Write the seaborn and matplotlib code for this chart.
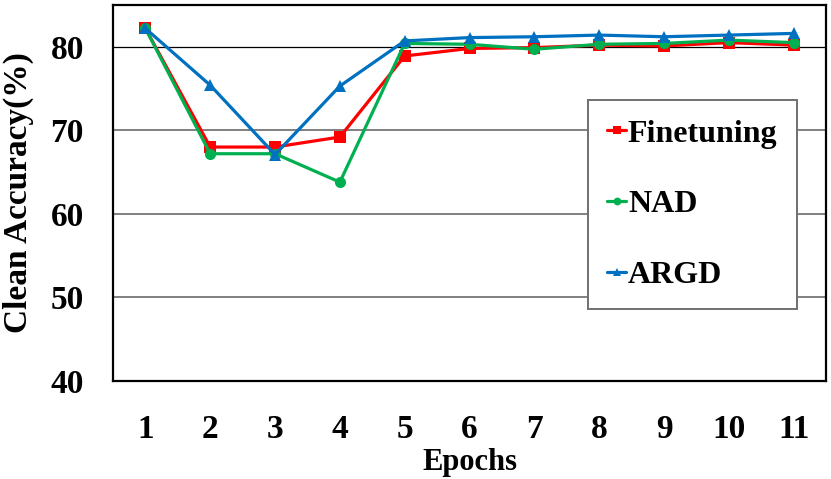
import matplotlib
matplotlib.use("Agg")
import matplotlib.pyplot as plt
import seaborn as sns
import pandas as pd

epochs = [1, 2, 3, 4, 5, 6, 7, 8, 9, 10, 11]
finetuning = [82.2, 68.0, 68.0, 69.2, 78.9, 79.8, 79.9, 80.2, 80.1, 80.5, 80.2]
nad = [82.2, 67.2, 67.2, 63.8, 80.4, 80.3, 79.7, 80.3, 80.4, 80.8, 80.5]
argd = [82.2, 75.4, 67.1, 75.3, 80.7, 81.1, 81.2, 81.4, 81.2, 81.4, 81.6]
series_names = ["Finetuning", "NAD", "ARGD"]
y_ticks = [40, 50, 60, 70, 80]

df = pd.DataFrame({
    "Epochs": epochs * 3,
    "Accuracy": finetuning + nad + argd,
    "Method": [series_names[0]] * len(epochs) + [series_names[1]] * len(epochs) + [series_names[2]] * len(epochs),
})

sns.set_theme(style="white")
plt.rcParams['font.family'] = ['Liberation Serif', 'DejaVu Serif']
plt.rcParams['font.weight'] = 'bold'
plt.rcParams['text.color'] = 'black'
plt.rcParams['axes.labelcolor'] = 'black'
plt.rcParams['xtick.color'] = 'black'
plt.rcParams['ytick.color'] = 'black'

fig = plt.figure(figsize=(8.31, 4.79), dpi=100)
ax = fig.add_axes([113 / 831, 1 - 381 / 479, 713 / 831, 376 / 479])

palette = {"Finetuning": "#FF0000", "NAD": "#00B050", "ARGD": "#0070C0"}
markers = {"Finetuning": "s", "NAD": "o", "ARGD": "^"}
sns.lineplot(data=df, x="Epochs", y="Accuracy", hue="Method", style="Method",
             palette=palette, markers=markers, dashes=False, linewidth=2.3,
             markersize=8, markeredgewidth=0, ax=ax, legend=True, zorder=3)

ax.set_xlim(0.5, 11.5)
ax.set_ylim(40, 85)
ax.set_xticks(epochs)
ax.set_xticklabels([str(e) for e in epochs])
ax.set_yticks(y_ticks)
ax.set_yticklabels([str(v) for v in y_ticks])
ax.tick_params(axis='both', length=0, labelsize=24, colors='black')
ax.tick_params(axis='x', pad=24)
ax.tick_params(axis='y', pad=21)
for lab in ax.get_xticklabels() + ax.get_yticklabels():
    lab.set_fontweight('bold')

ax.yaxis.grid(True)
ax.xaxis.grid(False)
for val, gl in zip(y_ticks, ax.get_ygridlines()):
    if val == 80:
        gl.set_color('black'); gl.set_linewidth(0.9)
    else:
        gl.set_color('#808080'); gl.set_linewidth(1.4)
ax.set_axisbelow(True)

for s in ax.spines.values():
    s.set_color('black'); s.set_linewidth(1.6); s.set_visible(True)

ax.set_xlabel("Epochs", fontsize=22, fontweight='bold', labelpad=2, color='black')
ax.set_ylabel("Clean Accuracy(%)", fontsize=24, fontweight='bold', labelpad=12, color='black')

handles, labels = ax.get_legend_handles_labels()
leg = ax.legend(handles, labels, loc='upper left',
                bbox_to_anchor=((588 - 113) / 713, (381 - 100) / 376),
                prop={'weight': 'bold', 'size': 23},
                frameon=True, fancybox=False, shadow=False,
                handlelength=0.6, handletextpad=0.05, borderpad=0.6,
                borderaxespad=0, labelspacing=1.3, markerscale=0.7)
leg.get_frame().set_edgecolor('#707070')
leg.get_frame().set_linewidth(1.4)
leg.get_frame().set_facecolor('white')
leg.get_frame().set_alpha(1)
leg.set_zorder(5)
for t in leg.get_texts():
    t.set_color('black')

fig.savefig("out.png", dpi=100)
